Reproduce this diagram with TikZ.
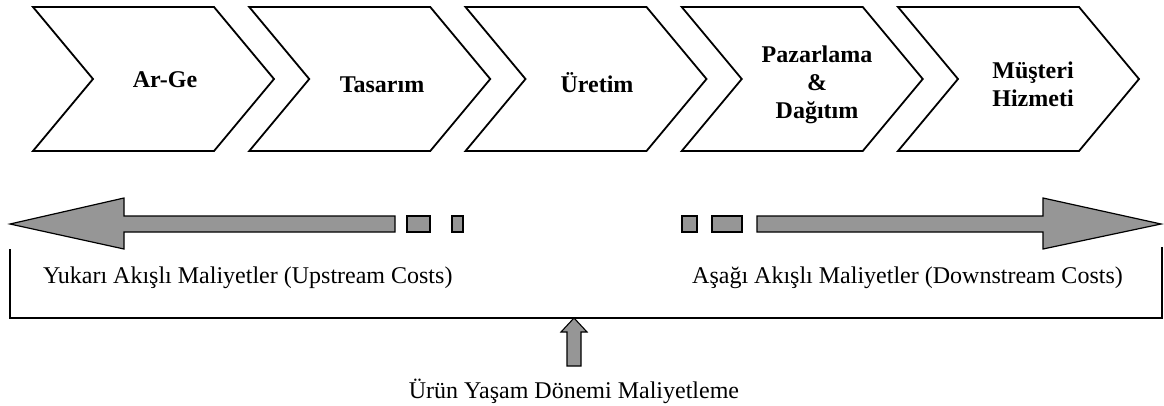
\documentclass[tikz,border=0pt]{standalone}
\usepackage{fontspec}
\setmainfont{Liberation Serif}
\definecolor{arrowgray}{RGB}{150,150,150}
\tikzset{
  stage/.style={draw=black, line width=1.8pt, line join=miter, fill=white},
  stagetext/.style={font=\bfseries\fontsize{24}{28}\selectfont, align=center, inner sep=0pt},
  flow/.style={draw=black, line width=1.2pt, fill=arrowgray, line join=miter},
  bracketline/.style={draw=black, line width=1.5pt},
  costtext/.style={font=\fontsize{24}{28}\selectfont, inner sep=0pt}
}
\begin{document}
\begin{tikzpicture}[x=1pt, y=-1pt]
\useasboundingbox (0,0) rectangle (1164,405);

% value chain stages (chevrons)
\foreach \i in {0,...,4} {
  \pgfmathsetmacro{\L}{33+216.25*\i}
  \draw[stage] (\L,7) -- ++(181,0) -- ++(60,72) -- ++(-60,72) -- ++(-181,0) -- ++(60,-72) -- cycle;
}
\node[stagetext, anchor=base] (arge) at (165,87) {Ar-Ge};
\node[stagetext, anchor=base] (tasarim) at (382,92) {Tasarım};
\node[stagetext, anchor=base] (uretim) at (597,92) {Üretim};
\node[stagetext] (pazar) at (817,85) {Pazarlama\\\&\\Dağıtım};
\node[stagetext] (musteri) at (1033,84) {Müşteri\\Hizmeti};

% upstream arrow pointing left, with trailing blocks
\draw[flow] (10,224) -- (124,198) -- (124,216) -- (395,216) -- (395,232) -- (124,232) -- (124,249) -- cycle;
\draw[flow] (407,216) rectangle (430,232);
\draw[flow] (452,216) rectangle (463,232);

% downstream arrow pointing right, with leading blocks
\draw[flow] (682,216) rectangle (697,232);
\draw[flow] (712,216) rectangle (742,232);
\draw[flow] (757,216) -- (1043,216) -- (1043,198) -- (1161,224) -- (1043,249) -- (1043,232) -- (757,232) -- cycle;

% cost labels
\node[costtext, anchor=base west] (upstream) at (43,283) {Yukarı Akışlı Maliyetler (Upstream Costs)};
\node[costtext, anchor=base west] (downstream) at (692,283) {Aşağı Akışlı Maliyetler (Downstream Costs)};

% bracket spanning the whole chain
\coordinate (bl) at (10,249);
\coordinate (br) at (1162,247);
\coordinate (bmid) at (574,318);
\draw[bracketline] (bl) -- (10,318) -- (1162,318) -- (br);

% life-cycle costing label and its pointer
\node[costtext, anchor=base] (lifecycle) at (574,398) {Ürün Yaşam Dönemi Maliyetleme};
\draw[flow, line width=1.1pt] (bmid) -- (587,332) -- (581,332) -- (581,366) -- (567,366) -- (567,332) -- (561,332) -- cycle;
\end{tikzpicture}
\end{document}
